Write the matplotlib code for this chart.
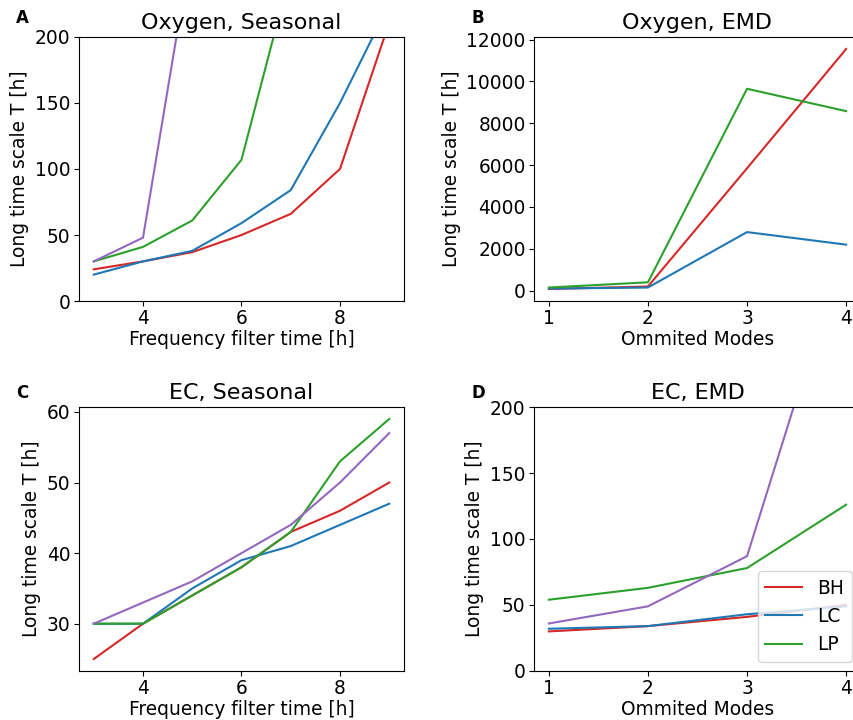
import numpy as np
import matplotlib
matplotlib.use("Agg")
import matplotlib.pyplot as plt

# --- datos ---
filt_time = [3, 4, 5, 6, 7, 8, 9]
modes = [1, 2, 3, 4]

# Oxygen, Seasonal
oxy_seas_bh = [24, 30, 37, 50, 66, 100, 211]
oxy_seas_lc = [20, 30, 38, 59, 84, 150, 225]
oxy_seas_lp = [30, 41, 61, 107, 250]
oxy_seas_extra = [30, 48, 272]

# Oxygen, EMD
oxy_emd_bh = [80, 200, 5850, 11550]
oxy_emd_lc = [100, 150, 2800, 2200]
oxy_emd_lp = [150, 400, 9650, 8580]

# EC, Seasonal
ec_seas_bh = [25, 30, 34, 38, 43, 46, 50]
ec_seas_lc = [30, 30, 35, 39, 41, 44, 47]
ec_seas_lp = [30, 30, 34, 38, 43, 53, 59]
ec_seas_extra = [30, 33, 36, 40, 44, 50, 57]

# EC, EMD
ec_emd_bh = [30, 34, 41, 50]
ec_emd_lc = [32, 34, 43, 49]
ec_emd_lp = [54, 63, 78, 126]
ec_emd_extra = [36, 49, 87, 327]

C_BH, C_LC, C_LP, C_EX = 'tab:red', 'tab:blue', 'tab:green', 'tab:purple'
FS = 13.4

fig = plt.figure(figsize=(8.54, 7.2), dpi=100)
W, H = 854, 720

def add_ax(l, r, t, b):
    return fig.add_axes([l / W, 1 - b / H, (r - l) / W, (b - t) / H])

ax_a = add_ax(79, 404, 37, 301)
ax_b = add_ax(534, 861, 37, 301)
ax_c = add_ax(79, 404, 407, 671)
ax_d = add_ax(534, 861, 407, 671)

# A
ax_a.plot(filt_time, oxy_seas_bh, color=C_BH)
ax_a.plot(filt_time, oxy_seas_lc, color=C_LC)
ax_a.plot(filt_time[:len(oxy_seas_lp)], oxy_seas_lp, color=C_LP)
ax_a.plot(filt_time[:len(oxy_seas_extra)], oxy_seas_extra, color=C_EX)
ax_a.set_xlim(2.7, 9.3)
ax_a.set_ylim(0, 200)
ax_a.set_yticks([0, 50, 100, 150, 200])
ax_a.set_xticks([4, 6, 8])
ax_a.set_title("Oxygen, Seasonal", fontsize=16)
ax_a.set_xlabel("Frequency filter time [h]", fontsize=FS, labelpad=1)
ax_a.set_ylabel("Long time scale T [h]", fontsize=FS)

# B
ax_b.plot(modes, oxy_emd_bh, color=C_BH)
ax_b.plot(modes, oxy_emd_lc, color=C_LC)
ax_b.plot(modes, oxy_emd_lp, color=C_LP)
ax_b.set_xticks(modes)
ax_b.set_yticks(range(0, 12001, 2000))
ax_b.set_title("Oxygen, EMD", fontsize=16)
ax_b.set_xlabel("Ommited Modes", fontsize=FS, labelpad=1)
ax_b.set_ylabel("Long time scale T [h]", fontsize=FS)

# C
ax_c.plot(filt_time, ec_seas_bh, color=C_BH)
ax_c.plot(filt_time, ec_seas_lc, color=C_LC)
ax_c.plot(filt_time, ec_seas_lp, color=C_LP)
ax_c.plot(filt_time, ec_seas_extra, color=C_EX)
ax_c.set_xticks([4, 6, 8])
ax_c.set_yticks([30, 40, 50, 60])
ax_c.set_title("EC, Seasonal", fontsize=16)
ax_c.set_xlabel("Frequency filter time [h]", fontsize=FS, labelpad=1)
ax_c.set_ylabel("Long time scale T [h]", fontsize=FS)

# D
ax_d.plot(modes, ec_emd_bh, color=C_BH, label='BH')
ax_d.plot(modes, ec_emd_lc, color=C_LC, label='LC')
ax_d.plot(modes, ec_emd_lp, color=C_LP, label='LP')
ax_d.plot(modes, ec_emd_extra, color=C_EX)
ax_d.set_xticks(modes)
ax_d.set_ylim(0, 200)
ax_d.set_yticks([0, 50, 100, 150, 200])
ax_d.set_title("EC, EMD", fontsize=16)
ax_d.set_xlabel("Ommited Modes", fontsize=FS, labelpad=1)
ax_d.set_ylabel("Long time scale T [h]", fontsize=FS)
ax_d.legend(loc='lower right', fontsize=FS)

for ax in (ax_a, ax_b, ax_c, ax_d):
    ax.tick_params(labelsize=FS, pad=2.5)

for letter, (x, y) in zip("ABCD", [(22, 18), (478, 18), (22, 393), (478, 393)]):
    fig.text(x / W, 1 - y / H, letter, fontsize=12, fontweight='bold',
             ha='center', va='center')

fig.savefig("out.png", dpi=100)
